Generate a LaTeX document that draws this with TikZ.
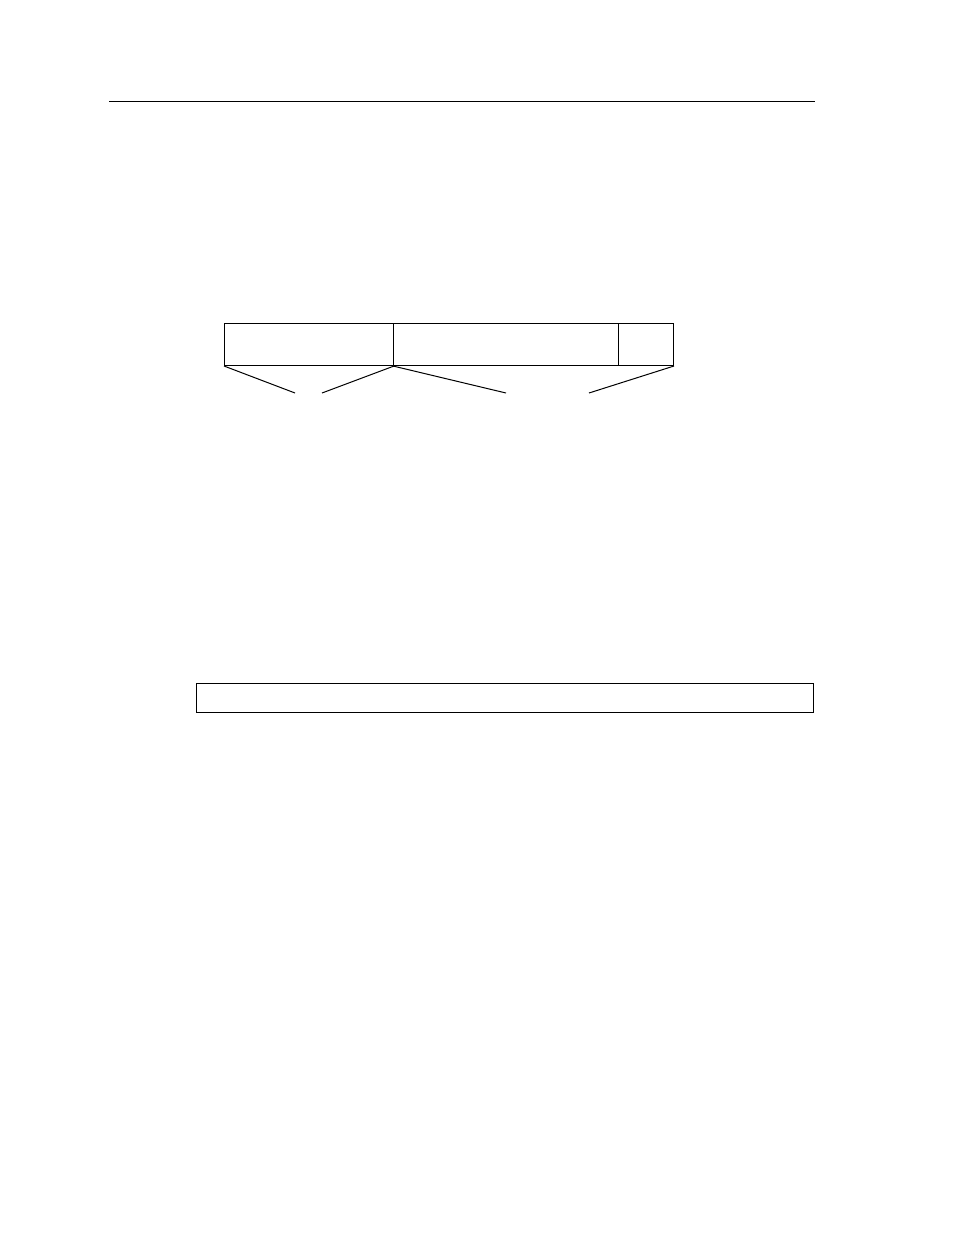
\documentclass[tikz,border=0pt]{standalone}
\usepackage{tikz}

\tikzset{field/.style={draw,line width=1pt,inner sep=0pt,minimum height=42pt,anchor=north west}}

\begin{document}
\begin{tikzpicture}[x=1pt,y=-1pt,line width=1pt]
		\useasboundingbox (0,0) rectangle (954,1235);
		\coordinate (rl) at (109,101);
		\coordinate (rr) at (815,101);
		\draw (rl)--(rr);
		\node[field,minimum width=169pt] (hdr) at (224,323){};
		\node[field,minimum width=225pt] (body) at (393,323){};
		\node[field,minimum width=55pt] (tail) at (618,323){};
		\coordinate (e1) at (295,393);
		\coordinate (e2) at (322,393);
		\coordinate (e3) at (506,393);
		\coordinate (e4) at (589,393);
		\draw (hdr.south west)--(e1);
		\draw (hdr.south east)--(e2);
		\draw (body.south west)--(e3);
		\draw (tail.south east)--(e4);
		\node[field,minimum width=617pt,minimum height=29pt] (bar) at (196,683){};
	\end{tikzpicture}
\end{document}
